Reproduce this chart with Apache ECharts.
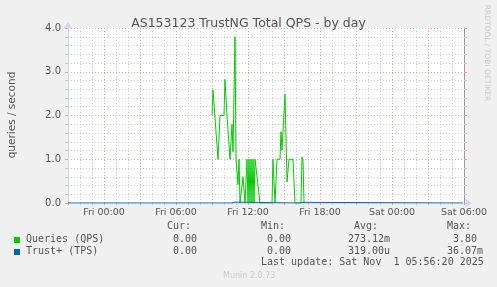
<!DOCTYPE html>
<html><head><meta charset="utf-8">
<script src="https://cdn.jsdelivr.net/npm/echarts@6/dist/echarts.min.js"></script>
<style>html,body{margin:0;padding:0;background:#f0f0f0}#c{width:497px;height:287px}</style>
</head><body><div id="c"></div>
<script>
// ---- data ----
const qpsTimes = ['Fri 09:00','Fri 09:05','Fri 09:30','Fri 09:40','Fri 10:00','Fri 10:05','Fri 10:15','Fri 10:25',
  'Fri 10:30','Fri 10:40','Fri 10:45','Fri 10:55','Fri 11:00','Fri 11:10','Fri 11:15','Fri 11:20','Fri 11:35',
  'Fri 11:45','Fri 11:55','Fri 12:00','Fri 12:05','Fri 12:10','Fri 12:15','Fri 12:20','Fri 12:25','Fri 12:30',
  'Fri 12:35','Fri 12:45','Fri 13:00','Fri 14:00','Fri 14:05','Fri 14:15','Fri 14:25','Fri 14:40','Fri 14:45',
  'Fri 14:50','Fri 15:05','Fri 15:15','Fri 15:25','Fri 15:45','Fri 15:55','Fri 16:25','Fri 16:30','Fri 16:35',
  'Fri 16:40'];
const qpsValues = [2.00,2.58,1.00,2.00,2.00,2.82,2.00,2.00,
  1.00,1.80,1.17,3.80,1.00,0.42,1.00,0.00,0.60,
  0.00,1.00,0.00,1.00,0.00,1.00,0.00,1.00,0.00,
  1.00,1.00,0.00,0.00,1.00,0.00,1.00,1.00,1.63,
  1.21,2.49,0.48,1.00,1.00,0.00,0.00,1.05,1.00,
  0.00];
const tpsTimes = ['Thu 21:00','Fri 10:40','Fri 10:45','Fri 10:50','Fri 10:55','Fri 11:00','Fri 16:20','Fri 16:25','Fri 16:35','Fri 16:40','Sat 05:55'];
const tpsValues = [0, 0, 0.02, 0.036, 0.02, 0, 0, 0.015, 0.015, 0, 0];
const tickHours = [0, 6, 12, 18, 24, 30];
const tickLabels = ['Fri 00:00','Fri 06:00','Fri 12:00','Fri 18:00','Sat 00:00','Sat 06:00'];
const seriesNames = ['Queries (QPS)', 'Trust+ (TPS)'];
const seriesColors = ['#00cc00', '#0066b3'];
const legendHeader = ['Cur:', 'Min:', 'Avg:', 'Max:'];
const qpsStats = ['0.00', '0.00', '273.12m', '3.80'];
const tpsStats = ['0.00', '0.00', '319.00u', '36.07m'];
const titleText = 'AS153123 TrustNG Total QPS - by day';
const yAxisName = 'queries / second';
const lastUpdate = 'Last update: Sat Nov  1 05:56:20 2025';
const footer = 'Munin 2.0.73';
const sideText = 'RRDTOOL / TOBI OETIKER';

function toHours(s) {
  const [d, t] = s.split(' ');
  const [h, m] = t.split(':').map(Number);
  return ({Thu: -24, Fri: 0, Sat: 24})[d] + h + m / 60;
}
const qpsData = qpsTimes.map((t, i) => [toHours(t), qpsValues[i]]);
const tpsData = tpsTimes.map((t, i) => [toHours(t), tpsValues[i]]);

const FONT = 'DejaVu Sans';
const MONO = 'DejaVu Sans Mono';
const TXT = '#555555';
const RED = '#eea0a0';
const GRAY = '#cccccc';

const statX = [[167, 261, 354, 447], [173, 267, 348, 453], [173, 267, 348, 447]];
const graphic = [];
legendHeader.forEach((s, i) => graphic.push({type: 'text', left: statX[0][i], top: 221,
  style: {text: s, font: '10px ' + MONO, fill: TXT}}));
[qpsStats, tpsStats].forEach((arr, r) => {
  const y = 234 + r * 12;
  graphic.push({type: 'rect', shape: {x: 14, y: y + 3, width: 6, height: 6}, style: {fill: seriesColors[r]}});
  graphic.push({type: 'text', left: 26, top: y, style: {text: seriesNames[r], font: '10px ' + MONO, fill: TXT}});
  arr.forEach((s, i) => graphic.push({type: 'text', left: statX[r + 1][i], top: y,
    style: {text: s, font: '10px ' + MONO, fill: TXT}}));
});
graphic.push({type: 'text', left: 261, top: 257, style: {text: lastUpdate, font: '10px ' + MONO, fill: TXT}});
graphic.push({type: 'text', left: 223, top: 272, style: {text: footer, font: '8px ' + FONT, fill: '#cccccc'}});
graphic.push({type: 'text', x: 12, y: 115, rotation: Math.PI / 2,
  style: {text: yAxisName, font: '10.5px ' + FONT, fill: TXT, align: 'center', verticalAlign: 'middle'}});
graphic.push({type: 'text', x: 487, y: 53, rotation: -Math.PI / 2,
  style: {text: sideText, font: '7.5px ' + FONT, fill: '#cccccc', align: 'center', verticalAlign: 'middle'}});

const chart = echarts.init(document.getElementById('c'), null, {renderer: 'canvas'});
chart.setOption({
  animation: false,
  backgroundColor: '#f0f0f0',
  title: {text: titleText, left: 'center', top: 12,
    textStyle: {fontFamily: FONT, fontSize: 12.5, fontWeight: 'normal', color: TXT}},
  grid: {left: 68, right: 33, top: 28, bottom: 84, show: true, backgroundColor: '#ffffff', borderWidth: 0},
  xAxis: {
    type: 'value', min: -3, max: 30, interval: 3,
    axisLine: {show: true, onZero: false, lineStyle: {color: '#CFD6F8'}, symbol: ['none', 'arrow'], symbolSize: [7, 7], symbolOffset: [0, 8]},
    axisTick: {show: true, length: 2, lineStyle: {color: RED}},
    minorTick: {show: true, splitNumber: 3, length: 2, lineStyle: {color: GRAY}},
    splitLine: {show: true, lineStyle: {color: RED, type: [1, 2]}},
    minorSplitLine: {show: true, lineStyle: {color: GRAY, type: [1, 2]}},
    axisLabel: {color: TXT, fontFamily: FONT, fontSize: 9.5, margin: 5,
      formatter: v => { const i = tickHours.indexOf(Math.round(v)); return i >= 0 ? tickLabels[i] : ''; }}
  },
  yAxis: [{
    type: 'value', min: 0, max: 4, interval: 1,
    axisLine: {show: true, onZero: false, lineStyle: {color: '#CFD6F8'}, symbol: ['none', 'arrow'], symbolSize: [7, 7], symbolOffset: [0, 6]},
    axisTick: {show: true, length: 3, lineStyle: {color: RED}},
    minorTick: {show: true, splitNumber: 5, length: 3, lineStyle: {color: GRAY}},
    splitLine: {show: true, lineStyle: {color: RED, type: [1, 2]}},
    minorSplitLine: {show: true, lineStyle: {color: GRAY, type: [1, 2]}},
    axisLabel: {color: TXT, fontFamily: FONT, fontSize: 10, margin: 7, formatter: v => v.toFixed(1)}
  }, {
    type: 'value', min: 0, max: 4, interval: 1, position: 'right',
    axisLine: {show: true, onZero: false, lineStyle: {color: '#9a9a9a'}},
    axisTick: {show: true, length: 3, lineStyle: {color: RED}},
    minorTick: {show: true, splitNumber: 5, length: 3, lineStyle: {color: GRAY}},
    splitLine: {show: false}, axisLabel: {show: false}
  }],
  series: [
    {name: seriesNames[0], type: 'line', data: qpsData, showSymbol: false, symbol: 'none', z: 3,
      lineStyle: {color: seriesColors[0], width: 1}, itemStyle: {color: seriesColors[0]}},
    {name: seriesNames[1], type: 'line', data: tpsData, showSymbol: false, symbol: 'none', z: 4,
      lineStyle: {color: seriesColors[1], width: 1}, itemStyle: {color: seriesColors[1]}}
  ],
  graphic: graphic
});
</script></body></html>
